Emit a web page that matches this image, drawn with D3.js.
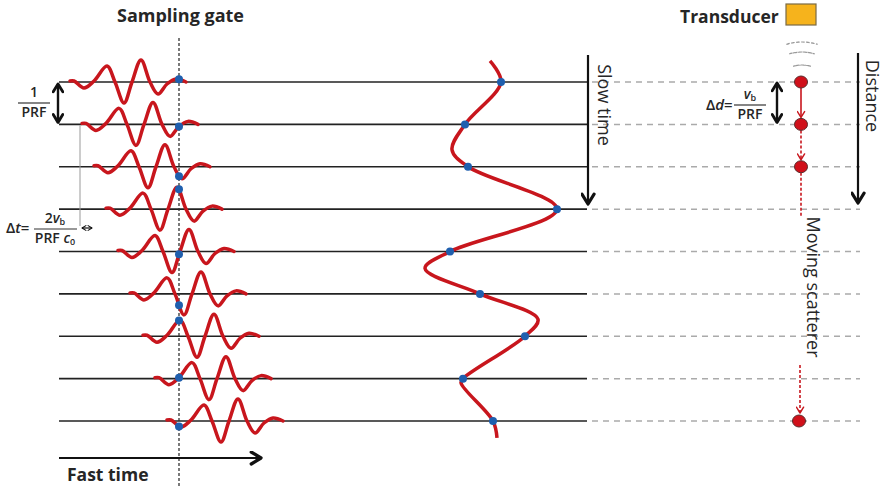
<!DOCTYPE html>
<html>
<head>
<meta charset="utf-8">
<script src="https://cdn.jsdelivr.net/npm/d3@7"></script>
<style>
  body { margin: 0; background: #fff; }
  text { font-family: "Open Sans", sans-serif; fill: #262626; }
</style>
</head>
<body>
<div class="grafico"></div>
<script>
const width = 887, height = 487;

// fast-time delay of the echo pulse in each slow-time row (pulse start)
const pulseDelays = [11, 23, 35, 47, 59, 71, 84, 96, 108];
// fast-time position of the sampling gate
const gateTime = 120;
// shape of one echo pulse: [fast time from pulse start, amplitude]
const pulseShape = [[0, 1], [4, 1], [14, -6], [24, 1], [37, 16], [45, 0], [54, -21],
    [62, 0], [71, 22], [80, 0], [88, -12], [97, -2], [106, 3], [116, 0]];
// slow-time signal: value picked by the gate in each row
const slowSamples = [10, -26, -23, 66, -41, -11, 34, -28, 2];
// extra points of the slow-time curve between the samples: [row, value]
const slowExtra = [[-0.5, -1], [1.6, -39], [4.4, -66], [5.6, 47], [7.1, -30], [8.4, 6]];
// rows where the scatterer is drawn
const scattererRows = [0, 1, 2, 8];

const rows = d3.range(pulseDelays.length);

const svg = d3.select(".grafico")
    .append("svg")
    .attr("width", width)
    .attr("height", height);

const defs = svg.append("defs");
function addMarker(id, color, size, sw) {
    defs.append("marker")
        .attr("id", id)
        .attr("viewBox", "0 0 10 10")
        .attr("refX", 8).attr("refY", 5)
        .attr("markerWidth", size).attr("markerHeight", size)
        .attr("markerUnits", "userSpaceOnUse")
        .attr("orient", "auto-start-reverse")
        .append("path")
        .attr("d", "M1.5,1 L8,5 L1.5,9")
        .attr("fill", "none")
        .attr("stroke", color)
        .attr("stroke-width", sw)
        .attr("stroke-linecap", "round")
        .attr("stroke-linejoin", "round");
}
addMarker("arrBig", "#111", 15, 2.2);
addMarker("arrMid", "#111", 12, 2.4);
addMarker("arrSmall", "#111", 6, 1.8);
addMarker("arrRed", "#c8161d", 9, 1.6);

// scales
const fx = d3.scaleLinear().domain([0, 200]).range([59, 259]);       // fast time
const rowY = d3.scaleLinear().domain([0, 8]).range([82, 421]);       // slow time / distance
const amp = d3.scaleLinear().domain([-25, 25]).range([25, -25]);     // pulse amplitude offset
const sx = d3.scaleLinear().domain([-70, 70]).range([421, 561]);     // slow-time signal

const red = "#c8161d", blue = "#1f5fae";

// row lines
svg.append("g").selectAll("line")
    .data(rows).enter().append("line")
    .attr("x1", 59).attr("x2", 587)
    .attr("y1", d => rowY(d)).attr("y2", d => rowY(d))
    .attr("stroke", "#222").attr("stroke-width", 1.6);

svg.append("g").selectAll("line")
    .data(rows).enter().append("line")
    .attr("x1", 592).attr("x2", 860)
    .attr("y1", d => rowY(d)).attr("y2", d => rowY(d))
    .attr("stroke", "#aaa").attr("stroke-width", 1.5)
    .attr("stroke-dasharray", "6,5");

// sampling gate
svg.append("line")
    .attr("x1", fx(gateTime)).attr("x2", fx(gateTime))
    .attr("y1", 38).attr("y2", height)
    .attr("stroke", "#333").attr("stroke-width", 1.3)
    .attr("stroke-dasharray", "3,2");

// echo pulses
const pulses = svg.append("g");
const dots = [];
rows.forEach(i => {
    const line = d3.line()
        .x(d => fx(pulseDelays[i] + d[0]))
        .y(d => rowY(i) + amp(d[1]))
        .curve(d3.curveCatmullRom);
    const p = pulses.append("path")
        .attr("d", line(pulseShape))
        .attr("fill", "none")
        .attr("stroke", red)
        .attr("stroke-width", 3.5)
        .attr("stroke-linecap", "round");
    // find where the pulse crosses the gate
    const node = p.node();
    const gx = fx(gateTime);
    let lo = 0, hi = node.getTotalLength();
    for (let k = 0; k < 40; k++) {
        const mid = (lo + hi) / 2;
        if (node.getPointAtLength(mid).x < gx) lo = mid; else hi = mid;
    }
    dots.push(node.getPointAtLength((lo + hi) / 2));
});
svg.append("g").selectAll("circle")
    .data(dots).enter().append("circle")
    .attr("cx", d => d.x).attr("cy", d => d.y).attr("r", 4)
    .attr("fill", blue);

// slow-time signal
const slowPts = slowSamples.map((v, i) => [i, v]).concat(slowExtra)
    .sort((a, b) => a[0] - b[0]);
const slowLine = d3.line()
    .x(d => sx(d[1]))
    .y(d => rowY(d[0]))
    .curve(d3.curveCatmullRom);
svg.append("path")
    .attr("d", slowLine(slowPts))
    .attr("fill", "none")
    .attr("stroke", red)
    .attr("stroke-width", 3.5);
svg.append("g").selectAll("circle")
    .data(slowSamples).enter().append("circle")
    .attr("cx", d => sx(d)).attr("cy", (d, i) => rowY(i)).attr("r", 4)
    .attr("fill", blue);

// axes arrows
svg.append("line")
    .attr("x1", 59).attr("x2", 261).attr("y1", 458).attr("y2", 458)
    .attr("stroke", "#111").attr("stroke-width", 2.2)
    .attr("marker-end", "url(#arrBig)");
svg.append("line")
    .attr("x1", 588).attr("x2", 588).attr("y1", 55).attr("y2", 204)
    .attr("stroke", "#111").attr("stroke-width", 2.2)
    .attr("marker-end", "url(#arrBig)");
svg.append("line")
    .attr("x1", 858).attr("x2", 858).attr("y1", 53).attr("y2", 203)
    .attr("stroke", "#111").attr("stroke-width", 2.2)
    .attr("marker-end", "url(#arrBig)");

// 1/PRF double arrow
svg.append("line")
    .attr("x1", 58).attr("x2", 58).attr("y1", rowY(0) + 2).attr("y2", rowY(1) - 2)
    .attr("stroke", "#111").attr("stroke-width", 2.4)
    .attr("marker-start", "url(#arrMid)").attr("marker-end", "url(#arrMid)");
// delta d double arrow
svg.append("line")
    .attr("x1", 777).attr("x2", 777).attr("y1", rowY(0) + 1).attr("y2", rowY(1) - 2)
    .attr("stroke", "#111").attr("stroke-width", 2.4)
    .attr("marker-start", "url(#arrMid)").attr("marker-end", "url(#arrMid)");
// delta t guide + tiny arrow
svg.append("line")
    .attr("x1", 80).attr("x2", 80).attr("y1", rowY(1) + 1).attr("y2", 226)
    .attr("stroke", "#999").attr("stroke-width", 1);
svg.append("line")
    .attr("x1", 82).attr("x2", 92).attr("y1", 228).attr("y2", 228)
    .attr("stroke", "#111").attr("stroke-width", 1.2)
    .attr("marker-start", "url(#arrSmall)").attr("marker-end", "url(#arrSmall)");

// transducer and wavefronts
svg.append("rect")
    .attr("x", 786).attr("y", 4).attr("width", 30).attr("height", 21)
    .attr("fill", "#f6b31c").attr("stroke", "#7a6a45").attr("stroke-width", 1.2);
const waveR = [30, 43, 53];
svg.append("g").selectAll("path")
    .data(waveR).enter().append("path")
    .attr("d", r => d3.arc()({innerRadius: r, outerRadius: r, startAngle: -0.3, endAngle: 0.3}))
    .attr("transform", "translate(802,95)")
    .attr("fill", "none").attr("stroke", "#9a9a9a").attr("stroke-width", 1.2)
    .attr("stroke-dasharray", "3,2");

// scatterer path
const scX = 801;
svg.append("line")
    .attr("x1", scX).attr("x2", scX).attr("y1", rowY(0) + 6).attr("y2", rowY(1) - 7)
    .attr("stroke", red).attr("stroke-width", 1.6).attr("marker-end", "url(#arrRed)");
svg.append("line")
    .attr("x1", scX).attr("x2", scX).attr("y1", rowY(1) + 6).attr("y2", rowY(2) - 7)
    .attr("stroke", red).attr("stroke-width", 1.6).attr("stroke-dasharray", "3,2")
    .attr("marker-end", "url(#arrRed)");
svg.append("line")
    .attr("x1", scX).attr("x2", scX).attr("y1", rowY(2) + 6).attr("y2", 217)
    .attr("stroke", red).attr("stroke-width", 1.6).attr("stroke-dasharray", "3,2");
svg.append("line")
    .attr("x1", scX - 1).attr("x2", scX - 1).attr("y1", 365).attr("y2", rowY(8) - 8)
    .attr("stroke", red).attr("stroke-width", 1.6).attr("stroke-dasharray", "3,2")
    .attr("marker-end", "url(#arrRed)");
svg.append("g").selectAll("ellipse")
    .data(scattererRows).enter().append("ellipse")
    .attr("cx", d => d === 8 ? scX - 2 : scX).attr("cy", d => rowY(d))
    .attr("rx", 6.5).attr("ry", 6)
    .attr("fill", "#d0101a").attr("stroke", "#5a2a2a").attr("stroke-width", 1);

// labels
function label(x, y, txt, size, weight, rotate) {
    const t = svg.append("text")
        .attr("x", x).attr("y", y)
        .style("font-size", size + "px")
        .style("font-weight", weight)
        .text(txt);
    if (rotate) t.attr("transform", `rotate(90,${x},${y})`).attr("text-anchor", "middle")
        .attr("dominant-baseline", "central");
    return t;
}
label(117, 22, "Sampling gate", 18, 700);
label(680, 23, "Transducer", 17.5, 700);
label(67, 481, "Fast time", 17.5, 700);
label(605, 105, "Slow time", 18, 400, true);
label(873, 96, "Distance", 18, 400, true);
label(814, 287, "Moving scatterer", 18, 400, true);

// fraction helper
function frac(cx, lineY, x1, x2, top, bottom) {
    svg.append("line").attr("x1", x1).attr("x2", x2).attr("y1", lineY).attr("y2", lineY)
        .attr("stroke", "#333").attr("stroke-width", 1.2);
    const t = svg.append("text").attr("x", cx).attr("y", lineY - 6)
        .attr("text-anchor", "middle").style("font-size", "14px").style("font-weight", 600);
    top(t);
    const b = svg.append("text").attr("x", cx).attr("y", lineY + 14)
        .attr("text-anchor", "middle").style("font-size", "14px").style("font-weight", 600);
    bottom(b);
}
frac(34, 103, 18, 50, t => t.text("1"), b => b.text("PRF"));

svg.append("text").attr("x", 6).attr("y", 233)
    .style("font-size", "15px").style("font-weight", 600)
    .html('Δ<tspan font-style="italic">t</tspan>=');
frac(55, 229, 34, 77,
    t => t.html('2<tspan font-style="italic">v</tspan><tspan font-size="9px" dy="2">b</tspan>'),
    b => b.html('PRF <tspan font-style="italic">c</tspan><tspan font-size="9px" dy="2">0</tspan>'));

svg.append("text").attr("x", 706).attr("y", 110)
    .style("font-size", "15px").style("font-weight", 600)
    .html('Δ<tspan font-style="italic">d</tspan>=');
frac(750, 105, 734, 766,
    t => t.html('<tspan font-style="italic">v</tspan><tspan font-size="9px" dy="2">b</tspan>'),
    b => b.text("PRF"));
</script>
</body>
</html>
